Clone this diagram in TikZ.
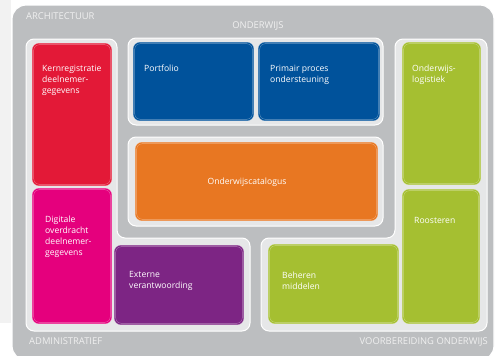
\documentclass[tikz,border=0pt]{standalone}
\usepackage{fontspec}
\setmainfont{Open Sans}
\definecolor{bggrey}{HTML}{BCBEC0}
\definecolor{panel}{HTML}{E6E7E8}
\definecolor{margin}{HTML}{F2F2F2}
\definecolor{labelc}{HTML}{F0F0F0}
\definecolor{cred}{HTML}{E31937}
\definecolor{cmag}{HTML}{E5007D}
\definecolor{cblue}{HTML}{00529B}
\definecolor{corange}{HTML}{E87722}
\definecolor{cpurple}{HTML}{7D2584}
\definecolor{cgreen}{HTML}{A5BF31}
\tikzset{
  panelshape/.style={fill=panel, draw=white, line width=1pt, rounded corners=8pt},
  cbox/.style={fill=#1, draw=white!40!#1, line width=0.5pt, double=#1, double distance=0.9pt,
     rounded corners=6pt, anchor=north west, inner sep=0pt, outer sep=0pt},
  btext/.style={anchor=north west, inner sep=0pt, text=white, align=left,
     font=\fontsize{8.6}{11}\selectfont},
  hlabel/.style={inner sep=0pt, text=labelc, font=\fontsize{9.4}{11}\selectfont}
}
\newcommand{\cboxat}[6]{%
  \node[cbox=#2, minimum width={(#5-#3)*1pt}, minimum height={(#6-#4)*1pt}] (#1) at (#3,#4) {};}
\begin{document}
\begin{tikzpicture}[x=1pt,y=-1pt]
\useasboundingbox (0,0) rectangle (496,356);
% margin shade
\fill[margin] (0,0) rectangle (11,323);
% outer grey frame
\draw[fill=bggrey, draw=white, line width=1.2pt, rounded corners=14pt] (12,5) rectangle (494,360);
% panels
\draw[panelshape] (26,39) -- (117,39) -- (117,238) -- (250,238) -- (250,331) -- (26,331) -- cycle;
\draw[panelshape] (395,39) -- (487,39) -- (487,331) -- (261,331) -- (261,238) -- (395,238) -- cycle;
\draw[panelshape] (128,38) rectangle (383,125);
\draw[panelshape] (128,137) rectangle (383,226);
% coloured boxes
\cboxat{kern}{cred}{33}{44}{111}{185}
\cboxat{digi}{cmag}{33}{189}{111}{323}
\cboxat{port}{cblue}{134}{43}{253}{120}
\cboxat{prim}{cblue}{259}{43}{379}{120}
\cboxat{cat}{corange}{136}{143}{377}{220}
\cboxat{ext}{cpurple}{115}{246}{243}{324}
\cboxat{logi}{cgreen}{403}{43}{480}{184}
\cboxat{roos}{cgreen}{403}{190}{479}{323}
\cboxat{beh}{cgreen}{269}{245}{398}{323}
% box texts
\node[btext] (tkern) at (42,65) {Kernregistratie\\deelnemer-\\gegevens};
\node[btext] (tport) at (144,65) {Portfolio};
\node[btext] (tprim) at (270,65) {Primair proces\\ondersteuning};
\node[btext] (tlogi) at (412,65) {Onderwijs-\\logistiek};
\node[btext, anchor=center] (tcat) at (247,182) {Onderwijscatalogus};
\node[btext] (tdigi) at (45,216) {Digitale\\overdracht\\deelnemer-\\gegevens};
\node[btext] (text) at (129,271) {Externe\\verantwoording};
\node[btext] (troos) at (414,217) {Roosteren};
\node[btext] (tbeh) at (282,272) {Beheren\\middelen};
% headers
\node[hlabel, anchor=north west] (harch) at (26,12) {ARCHITECTUUR};
\node[hlabel, anchor=north] (hond) at (258,21) {ONDERWIJS};
\node[hlabel, anchor=north west] (hadm) at (29,337) {ADMINISTRATIEF};
\node[hlabel, anchor=north east] (hvoor) at (488,337) {VOORBEREIDING ONDERWIJS};
\end{tikzpicture}
\end{document}
